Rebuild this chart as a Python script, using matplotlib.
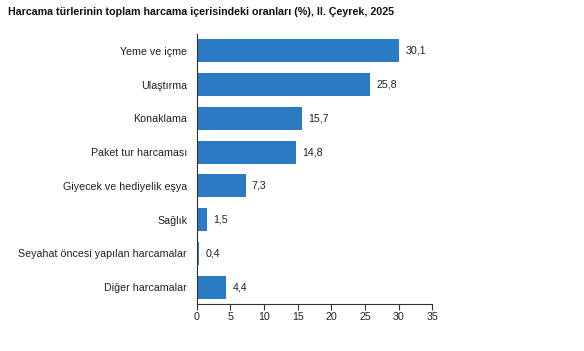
import matplotlib
matplotlib.use("Agg")
import matplotlib.pyplot as plt

categories = [
    "Yeme ve içme",
    "Ulaştırma",
    "Konaklama",
    "Paket tur harcaması",
    "Giyecek ve hediyelik eşya",
    "Sağlık",
    "Seyahat öncesi yapılan harcamalar",
    "Diğer harcamalar",
]
values = [30.1, 25.8, 15.7, 14.8, 7.3, 1.5, 0.4, 4.4]
x_ticks = [0, 5, 10, 15, 20, 25, 30, 35]
title = "Harcama türlerinin toplam harcama içerisindeki oranları (%), II. Çeyrek, 2025"

plt.rcParams["font.family"] = ["Liberation Sans", "DejaVu Sans"]

fig = plt.figure(figsize=(5.84, 3.51), dpi=100)
ax = fig.add_axes([0.337, 0.134, 0.403, 0.769])

pos = list(range(len(categories)))
ax.barh(pos, values, height=0.68, color="#2a7bc4")
for p, v in zip(pos, values):
    ax.text(v + 0.9, p, f"{v:.1f}".replace(".", ","), va="center", ha="left", fontsize=7.7, color="#222222")

ax.set_ylim(len(categories) - 0.5, -0.5)
ax.set_yticks(pos)
ax.set_yticklabels(categories, fontsize=7.7, color="#222222")
ax.tick_params(axis="y", length=0, pad=7)
ax.set_xlim(0, 35)
ax.set_xticks(x_ticks)
ax.set_xticklabels([str(t) for t in x_ticks], fontsize=7.7, color="#222222")
ax.tick_params(axis="x", length=4, width=0.8, color="#333333", pad=1.5)

for s in ["top", "right"]:
    ax.spines[s].set_visible(False)
for s in ["left", "bottom"]:
    ax.spines[s].set_color("#333333")
    ax.spines[s].set_linewidth(0.8)

fig.text(0.014, 0.965, title, fontsize=7.7, fontweight="bold", va="center", ha="left", color="#111111")

fig.savefig("out.png", dpi=100)
